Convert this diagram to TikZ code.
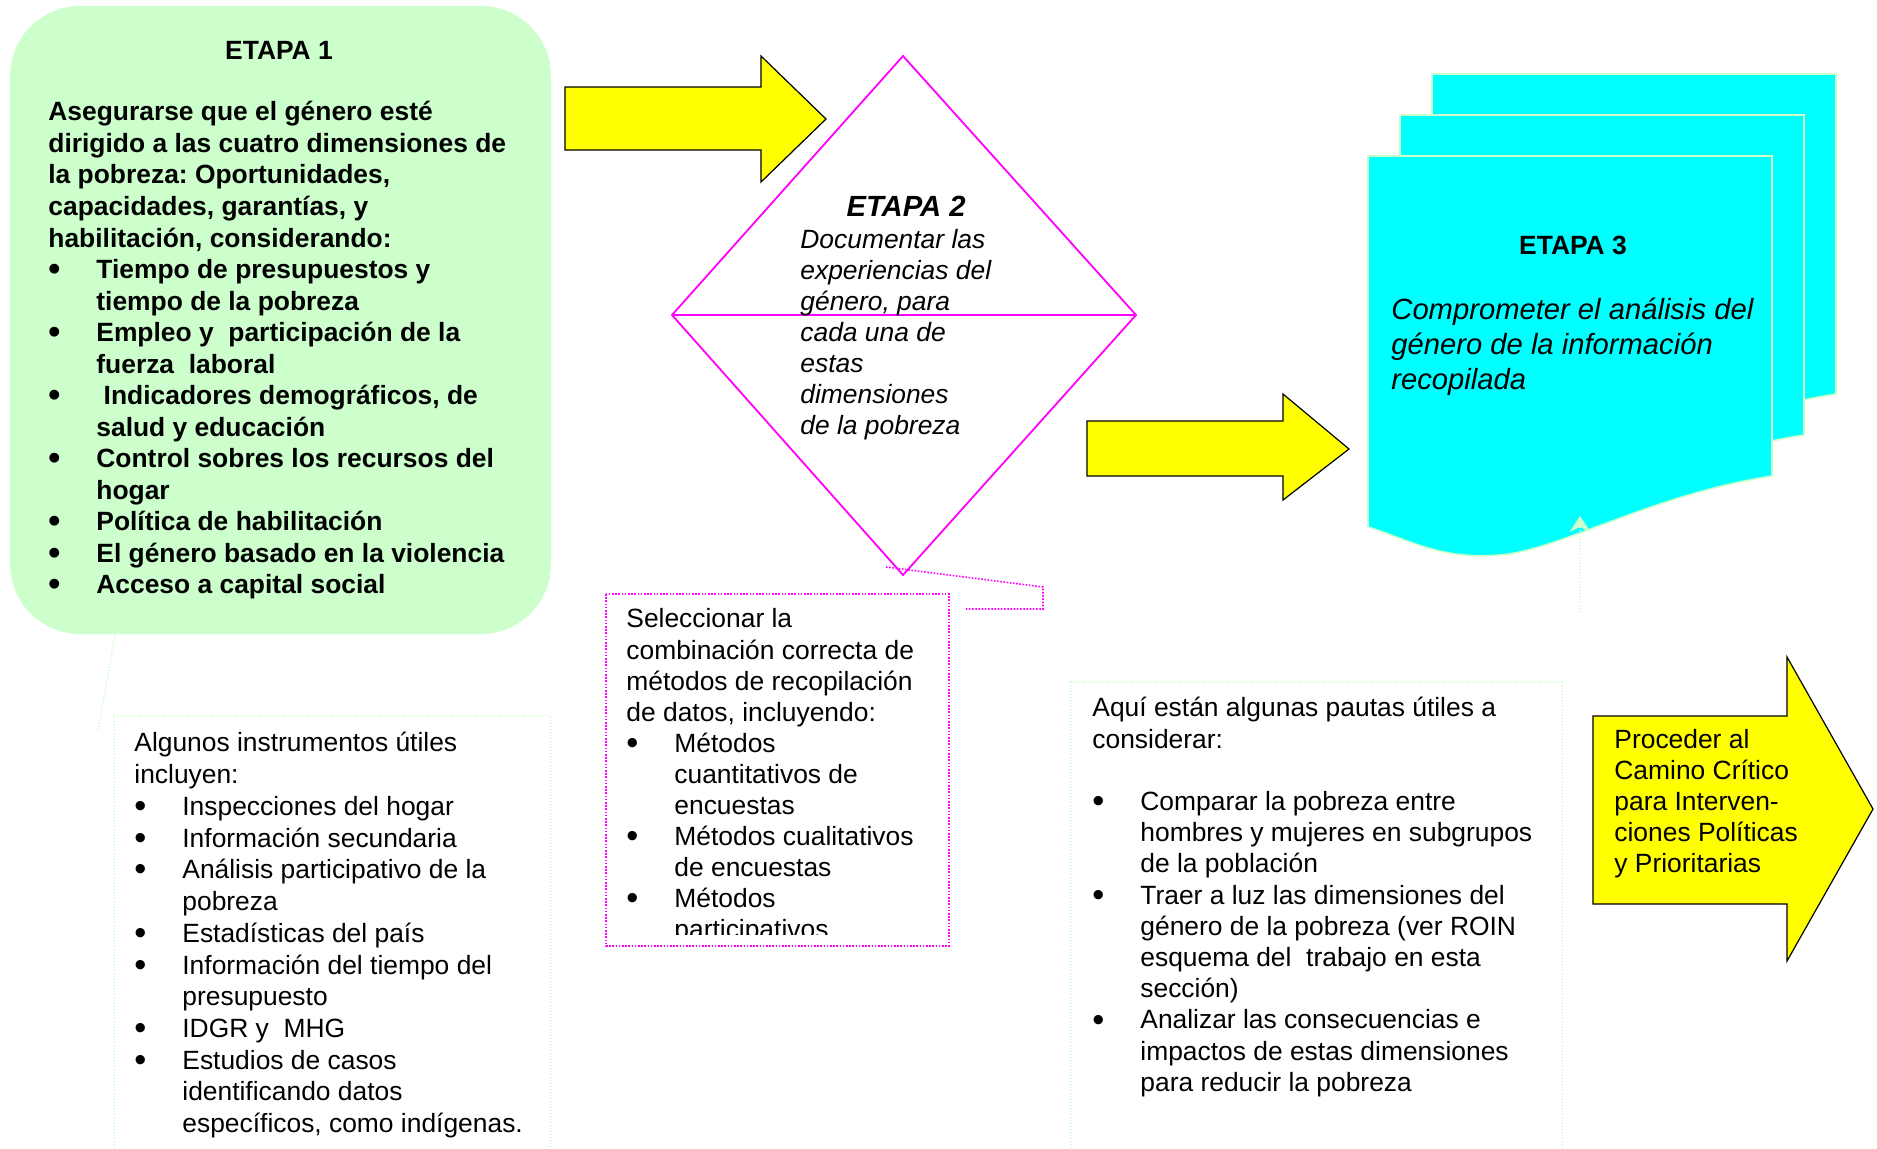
\documentclass[tikz,border=0pt]{standalone}
\usepackage{fontspec}
\setmainfont{Liberation Sans}
\usetikzlibrary{arrows.meta}
\frenchspacing
\definecolor{etapagreen}{HTML}{CCFFCC}
\definecolor{docblue}{HTML}{00FFFF}
\definecolor{magline}{HTML}{FF00FF}
\definecolor{arrowyellow}{HTML}{FFFF00}
\newcommand{\bitem}{\makebox[24pt][l]{\raisebox{-0.08em}{\scalebox{1.3}{\textbullet}}}}
\newcommand{\bcont}{\hspace*{24pt}}
\newcommand{\firstln}{\rule{0pt}{1.1em}}
\tikzset{stagebox/.style={fill=etapagreen,rounded corners=35pt},yarrow/.style={fill=arrowyellow,draw=black,line width=0.6pt,line join=miter},sheet/.style={fill=docblue,draw=etapagreen,line width=0.8pt},greendots/.style={draw=etapagreen,line width=0.7pt,dash pattern=on 0.7pt off 0.8pt},magdots/.style={draw=magline,line width=0.8pt,dash pattern=on 0.8pt off 0.8pt},txt/.style={inner sep=0pt,anchor=north west,align=left},stagetitle/.style={inner sep=0pt,anchor=base,font=\fontsize{13.2}{15.8}\selectfont\bfseries}}

\begin{document}
\begin{tikzpicture}[x=0.5pt,y=-0.5pt]
\useasboundingbox (0,0) rectangle (1877,1148);

%etapa 1
\path[stagebox] (10,6) rectangle (551,634);
\node (t1) at (279,59.5) [stagetitle] {ETAPA 1};
\node (e1text) at (48,91.5) [txt,font=\fontsize{13.2}{15.76}\selectfont\bfseries] {\firstln Asegurarse que el género esté\\
dirigido a las cuatro dimensiones de\\
la pobreza: Oportunidades,\\
capacidades, garantías, y\\
habilitación, considerando:\\
\bitem Tiempo de presupuestos y\\
\bcont tiempo de la pobreza\\
\bitem Empleo y\ \ participación de la\\
\bcont fuerza\ \ laboral\\
\bitem\ Indicadores demográficos, de\\
\bcont salud y educación\\
\bitem Control sobres los recursos del\\
\bcont hogar\\
\bitem Política de habilitación\\
\bitem El género basado en la violencia\\
\bitem Acceso a capital social};

%instrumentos
\coordinate (c1a) at (115,634);
\coordinate (c1b) at (98,731);
\draw[greendots] (c1a) -- (c1b);
\draw[greendots] (114,1148) -- (114,716) -- (551,716) -- (551,1148);
\node (tools) at (134,722.5) [txt,font=\fontsize{13.2}{15.86}\selectfont] {\firstln Algunos instrumentos útiles\\
incluyen:\\
\bitem Inspecciones del hogar\\
\bitem Información secundaria\\
\bitem Análisis participativo de la\\
\bcont pobreza\\
\bitem Estadísticas del país\\
\bitem Información del tiempo del\\
\bcont presupuesto\\
\bitem IDGR y\ \ MHG\\
\bitem Estudios de casos\\
\bcont identificando datos\\
\bcont específicos, como indígenas.};

%arrows
\draw[yarrow] (565,87) -- (761,87) -- (761,56) -- (826,119) -- (761,182) -- (761,150) -- (565,150) -- cycle;
\draw[yarrow] (1087,421) -- (1283,421) -- (1283,394) -- (1349,449) -- (1283,500) -- (1283,476) -- (1087,476) -- cycle;
\draw[yarrow] (1593,716) -- (1787,716) -- (1787,657) -- (1873,809) -- (1787,961) -- (1787,904) -- (1593,904) -- cycle;
\node (proceed) at (1614,719.5) [txt,font=\fontsize{13.2}{15.4}\selectfont] {\firstln Proceder al\\
Camino Crítico\\
para Interven-\\
ciones Políticas\\
y Prioritarias};

%etapa 2
\coordinate (dtop) at (903,56);
\coordinate (dright) at (1136,315);
\coordinate (dbottom) at (903,575);
\coordinate (dleft) at (672,315);
\draw[magline,line width=0.9pt] (dtop) -- (dright) -- (dbottom) -- (dleft) -- cycle;
\draw[magline,line width=0.9pt] (dleft) -- (dright);
\node (t2) at (906,216.5) [stagetitle,font=\fontsize{14.6}{17}\selectfont\bfseries\itshape] {ETAPA 2};
\node (e2text) at (800,219.5) [txt,font=\fontsize{13.2}{15.46}\selectfont\itshape] {\firstln Documentar las\\
experiencias del\\
género, para\\
cada una de\\
estas\\
dimensiones\\
de la pobreza};

%metodos
\coordinate (c2a) at (886,567);
\coordinate (c2b) at (1043,587);
\coordinate (c2c) at (1043,609);
\coordinate (c2d) at (966,609);
\draw[magdots] (c2a) -- (c2b) -- (c2c) -- (c2d);
\draw[magdots] (606,594) rectangle (949,946);
\begin{scope}
\clip (606,594) rectangle (949,934);
\node (methods) at (626,598.5) [txt,font=\fontsize{13.2}{15.55}\selectfont] {\firstln Seleccionar la\\
combinación correcta de\\
métodos de recopilación\\
de datos, incluyendo:\\
\bitem Métodos\\
\bcont cuantitativos de\\
\bcont encuestas\\
\bitem Métodos cualitativos\\
\bcont de encuestas\\
\bitem Métodos\\
\bcont participativos};
\end{scope}

%etapa 3
\foreach \dx/\dy in {64/-82,32/-41,0/0}{
\begin{scope}[shift={(\dx,\dy)}]
\draw[sheet] (1368,156) -- (1772,156) -- (1772,476) .. controls (1650,495) and (1560,550) .. (1500,555) .. controls (1440,560) and (1410,540) .. (1368,527) -- cycle;
\end{scope}
}
\node (t3) at (1573,254.5) [stagetitle] {ETAPA 3};
\node (e3text) at (1391,287.4) [txt,font=\fontsize{14.6}{17.35}\selectfont\itshape] {\firstln Comprometer el análisis del\\
género de la información\\
recopilada};

%pautas
\coordinate (ptrfoot) at (1580,612);
\coordinate (ptrtip) at (1580,516);
\draw[greendots,-{Stealth[length=8pt,width=10.5pt,fill=etapagreen]}] (ptrfoot) -- (ptrtip);
\draw[greendots] (1071,1148) -- (1071,682) -- (1562,682) -- (1562,1148);
\node (hints) at (1092,687.5) [txt,font=\fontsize{13.2}{15.6}\selectfont] {\firstln Aquí están algunas pautas útiles a\\
considerar:\\[15.6pt]
\bitem Comparar la pobreza entre\\
\bcont hombres y mujeres en subgrupos\\
\bcont de la población\\
\bitem Traer a luz las dimensiones del\\
\bcont género de la pobreza (ver ROIN\\
\bcont esquema del\ \ trabajo en esta\\
\bcont sección)\\
\bitem Analizar las consecuencias e\\
\bcont impactos de estas dimensiones\\
\bcont para reducir la pobreza};

\end{tikzpicture}
\end{document}
